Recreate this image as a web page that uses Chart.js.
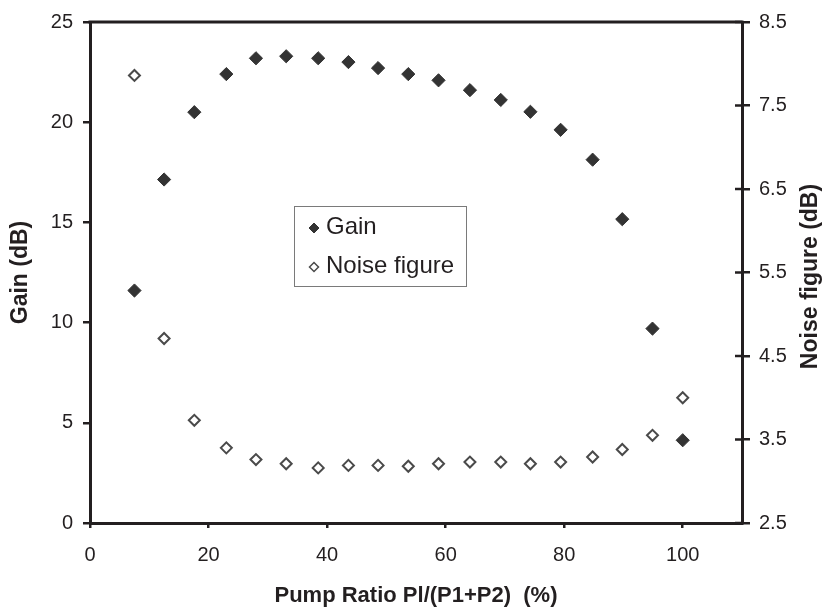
<!DOCTYPE html>
<html>
<head>
<meta charset="utf-8">
<script src="https://cdn.jsdelivr.net/npm/chart.js@4.4.1/dist/chart.umd.min.js"></script>
<style>
  html, body { margin: 0; padding: 0; background: #fff; }
  #wrap { width: 824px; height: 613px; }
</style>
</head>
<body>
<div id="wrap"><canvas id="chart" width="824" height="613"></canvas></div>
<script>
// pump ratio (%) for each measurement
const pump_ratio = [7.5, 12.5, 17.6, 23, 28, 33.1, 38.5, 43.6, 48.6, 53.7, 58.8, 64.1, 69.3, 74.3, 79.4, 84.8, 89.8, 94.9, 100];
const gain_db = [11.6, 17.14, 20.5, 22.4, 23.19, 23.29, 23.19, 23.0, 22.7, 22.4, 22.09, 21.6, 21.11, 20.52, 19.62, 18.13, 15.16, 9.7, 4.13];
const noise_db = [7.86, 4.71, 3.73, 3.4, 3.26, 3.21, 3.16, 3.19, 3.19, 3.18, 3.21, 3.23, 3.23, 3.21, 3.23, 3.29, 3.38, 3.55, 4.0];

const x_ticks = [0, 20, 40, 60, 80, 100];
const gain_ticks = [0, 5, 10, 15, 20, 25];
const noise_ticks = [2.5, 3.5, 4.5, 5.5, 6.5, 7.5, 8.5];

const ink = '#231f20';
const font_family = '"Liberation Sans", Arial, sans-serif';

function toPoints(xs, ys) {
  return xs.map((x, i) => ({ x: x, y: ys[i] }));
}

// frame: top border, inner half of right ticks, right axis title, legend box
const framePlugin = {
  id: 'frame',
  afterDraw(chart) {
    const c = chart.ctx;
    const area = chart.chartArea;
    const right = chart.scales.y2;
    c.save();
    c.strokeStyle = ink;
    c.lineWidth = 3;
    c.beginPath();
    c.moveTo(area.left - 1.5, area.top);
    c.lineTo(area.right + 1.5, area.top);
    c.stroke();
    // right axis ticks cross the axis line
    c.lineWidth = 2.5;
    noise_ticks.forEach(v => {
      const py = right.getPixelForValue(v);
      c.beginPath();
      c.moveTo(area.right - 7, py);
      c.lineTo(area.right, py);
      c.stroke();
    });
    // right title reads bottom to top
    c.fillStyle = ink;
    c.font = 'bold 23px ' + font_family;
    c.textAlign = 'center';
    c.textBaseline = 'middle';
    c.translate(811, (area.top + area.bottom) / 2 + 4);
    c.rotate(-Math.PI / 2);
    c.fillText('Noise figure (dB)', 0, 0);
    c.restore();

    // legend
    c.save();
    c.fillStyle = '#fff';
    c.fillRect(294.5, 206.5, 172, 80);
    c.strokeStyle = '#7a7a7a';
    c.lineWidth = 1;
    c.strokeRect(294.5, 206.5, 172, 80);
    const rows = [
      { ds: chart.data.datasets[0], y: 228 },
      { ds: chart.data.datasets[1], y: 267 }
    ];
    rows.forEach(r => {
      c.beginPath();
      const rad = r.ds === chart.data.datasets[0] ? 5 : 4.5;
      c.moveTo(314 - rad, r.y);
      c.lineTo(314, r.y - rad);
      c.lineTo(314 + rad, r.y);
      c.lineTo(314, r.y + rad);
      c.closePath();
      c.fillStyle = r.ds.backgroundColor;
      c.fill();
      c.strokeStyle = r.ds.borderColor;
      c.lineWidth = r.ds === chart.data.datasets[0] ? 1 : 1.5;
      c.stroke();
      c.fillStyle = ink;
      c.font = '24px ' + font_family;
      c.textAlign = 'left';
      c.textBaseline = 'middle';
      c.fillText(r.ds.label, 326, r.y - 1);
    });
    c.restore();
  }
};

new Chart(document.getElementById('chart'), {
  type: 'scatter',
  data: {
    datasets: [
      {
        label: 'Gain',
        data: toPoints(pump_ratio, gain_db),
        yAxisID: 'y',
        pointStyle: 'rectRot',
        pointRadius: 6.6,
        backgroundColor: '#333333',
        borderColor: '#333333',
        borderWidth: 1
      },
      {
        label: 'Noise figure',
        data: toPoints(pump_ratio, noise_db),
        yAxisID: 'y2',
        pointStyle: 'rectRot',
        pointRadius: 5.5,
        backgroundColor: '#ffffff',
        borderColor: '#4a4a4a',
        borderWidth: 2
      }
    ]
  },
  options: {
    responsive: false,
    animation: false,
    layout: { padding: { top: 19, left: 0, right: 0, bottom: 0 } },
    plugins: {
      legend: { display: false },
      tooltip: { enabled: false }
    },
    scales: {
      x: {
        type: 'linear',
        min: 0,
        max: 110,
        afterBuildTicks: s => { s.ticks = x_ticks.map(v => ({ value: v })); },
        afterFit: s => { s.height = 90; },
        grid: { drawOnChartArea: false, tickLength: 5, color: ink, lineWidth: 2.5 },
        border: { color: ink, width: 3 },
        ticks: { color: ink, font: { size: 20, family: font_family }, padding: 15, maxRotation: 0 },
        title: {
          display: true,
          text: 'Pump Ratio Pl/(P1+P2)  (%)',
          color: ink,
          font: { size: 22, weight: 'bold', family: font_family },
          padding: { top: 0, bottom: 4 }
        }
      },
      y: {
        position: 'left',
        min: 0,
        max: 25,
        afterBuildTicks: s => { s.ticks = gain_ticks.map(v => ({ value: v })); },
        afterFit: s => { s.width = 90; },
        grid: { drawOnChartArea: false, tickLength: 7, color: ink, lineWidth: 2.5 },
        border: { color: ink, width: 3 },
        ticks: { color: ink, font: { size: 20, family: font_family }, padding: 10 },
        title: {
          display: true,
          text: 'Gain (dB)',
          color: ink,
          font: { size: 23, weight: 'bold', family: font_family },
          padding: { top: 7, bottom: 0 }
        }
      },
      y2: {
        position: 'right',
        min: 2.5,
        max: 8.5,
        afterBuildTicks: s => { s.ticks = noise_ticks.map(v => ({ value: v })); },
        afterFit: s => { s.width = 82; },
        grid: { drawOnChartArea: false, tickLength: 8, color: ink, lineWidth: 2.5 },
        border: { color: ink, width: 3 },
        ticks: { color: ink, font: { size: 20, family: font_family }, padding: 9, callback: v => v.toFixed(1) }
      }
    }
  },
  plugins: [framePlugin]
});
</script>
</body>
</html>
